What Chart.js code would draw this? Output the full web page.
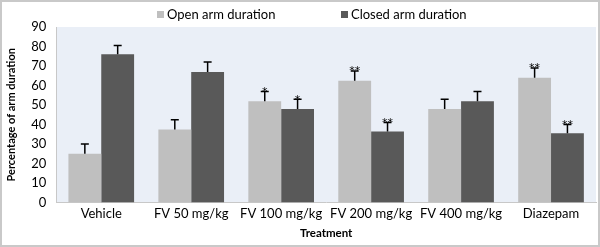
<!DOCTYPE html>
<html lang="en">
<head>
    <meta charset="UTF-8">
    <title>Arm duration</title>
    <script src="https://cdn.jsdelivr.net/npm/chart.js"></script>
    <style>
        body {
            margin: 0;
            background: #fff;
        }
        .frame {
            width: 596px;
            height: 243px;
            border: 2px solid #c9c9c9;
        }
    </style>
</head>
<body>
    <div class="frame">
        <canvas id="armChart" width="596" height="243"></canvas>
    </div>

    <script>
        const treatments = ['Vehicle', 'FV 50 mg/kg', 'FV 100 mg/kg', 'FV 200 mg/kg', 'FV 400 mg/kg', 'Diazepam'];
        const openArm = [25, 37.5, 52, 62.5, 48, 64];
        const closedArm = [76, 67, 48, 36.5, 52, 35.5];
        const openErr = [5, 5, 5, 5, 5, 5];
        const closedErr = [4.5, 5, 5, 4.5, 5, 4.5];
        const openSig = ['', '', '*', '**', '', '**'];
        const closedSig = ['', '', '*', '**', '', '**'];
        const yTicks = [0, 10, 20, 30, 40, 50, 60, 70, 80, 90];

        const FONT = 'Lato';

        const plotBackground = {
            id: 'plotBackground',
            beforeDraw(chart) {
                const { ctx, chartArea } = chart;
                ctx.save();
                ctx.fillStyle = '#eaeff7';
                ctx.fillRect(chartArea.left, chartArea.top, chartArea.right - chartArea.left, chartArea.bottom - chartArea.top);
                ctx.restore();
            }
        };

        // legend drawn by hand, the built-in one can't get the wide gap without a tall box
        const topLegend = {
            id: 'topLegend',
            afterDraw(chart) {
                const ctx = chart.ctx;
                const starts = [155, 339];
                ctx.save();
                ctx.font = '13px ' + FONT;
                ctx.textBaseline = 'middle';
                ctx.textAlign = 'left';
                chart.data.datasets.forEach((ds, i) => {
                    ctx.fillStyle = ds.backgroundColor;
                    ctx.fillRect(starts[i], 9, 7, 7);
                    ctx.fillStyle = '#000';
                    ctx.fillText(ds.label, starts[i] + 10, 13);
                });
                ctx.restore();
            }
        };

        // error bars (upper only) and significance stars
        const errorBars = {
            id: 'errorBars',
            afterDatasetsDraw(chart) {
                const ctx = chart.ctx;
                const y = chart.scales.y;
                const errs = [openErr, closedErr];
                const sigs = [openSig, closedSig];
                ctx.save();
                ctx.strokeStyle = '#000';
                ctx.fillStyle = '#000';
                ctx.lineWidth = 1.5;
                chart.data.datasets.forEach((ds, di) => {
                    const meta = chart.getDatasetMeta(di);
                    meta.data.forEach((bar, i) => {
                        const top = y.getPixelForValue(ds.data[i]);
                        const hi = y.getPixelForValue(ds.data[i] + errs[di][i]);
                        ctx.beginPath();
                        ctx.moveTo(bar.x, top);
                        ctx.lineTo(bar.x, hi);
                        ctx.moveTo(bar.x - 4, hi);
                        ctx.lineTo(bar.x + 4, hi);
                        ctx.stroke();
                        if (sigs[di][i]) {
                            ctx.font = '11px "DejaVu Sans"';
                            ctx.textAlign = 'center';
                            ctx.textBaseline = 'bottom';
                            ctx.fillText(sigs[di][i], bar.x, hi + 6);
                        }
                    });
                });
                ctx.restore();
            }
        };

        const ctx = document.getElementById('armChart').getContext('2d');
        new Chart(ctx, {
            type: 'bar',
            data: {
                labels: treatments,
                datasets: [
                    {
                        label: 'Open arm duration',
                        data: openArm,
                        backgroundColor: '#bfbfbf',
                        barPercentage: 1,
                        categoryPercentage: 0.73
                    },
                    {
                        label: 'Closed arm duration',
                        data: closedArm,
                        backgroundColor: '#595959',
                        barPercentage: 1,
                        categoryPercentage: 0.73
                    }
                ]
            },
            options: {
                responsive: false,
                animation: false,
                layout: { padding: { left: 0, right: 2, top: 25, bottom: 1 } },
                plugins: {
                    legend: { display: false },
                    tooltip: { enabled: false }
                },
                scales: {
                    x: {
                        grid: { display: false, drawTicks: false },
                        border: { color: '#c8c8c8' },
                        ticks: {
                            color: '#000',
                            font: { family: FONT, size: 13 },
                            padding: 3,
                            autoSkip: false,
                            maxRotation: 0,
                            minRotation: 0
                        },
                        title: {
                            display: true,
                            text: 'Treatment',
                            color: '#000',
                            font: { family: FONT, size: 11.5, weight: 'bold' },
                            padding: { top: 2, bottom: 4 }
                        }
                    },
                    y: {
                        min: 0,
                        max: 90,
                        afterBuildTicks(axis) {
                            axis.ticks = yTicks.map(v => ({ value: v }));
                        },
                        grid: { display: false, drawTicks: false },
                        border: { color: '#c8c8c8' },
                        ticks: {
                            color: '#000',
                            font: { family: FONT, size: 13 },
                            padding: 10,
                            autoSkip: false
                        },
                        title: {
                            display: true,
                            text: 'Percentage of arm duration',
                            color: '#000',
                            font: { family: FONT, size: 11, weight: 'bold' },
                            padding: { top: 3, bottom: 3 }
                        }
                    }
                }
            },
            plugins: [plotBackground, errorBars, topLegend]
        });
    </script>
</body>
</html>
